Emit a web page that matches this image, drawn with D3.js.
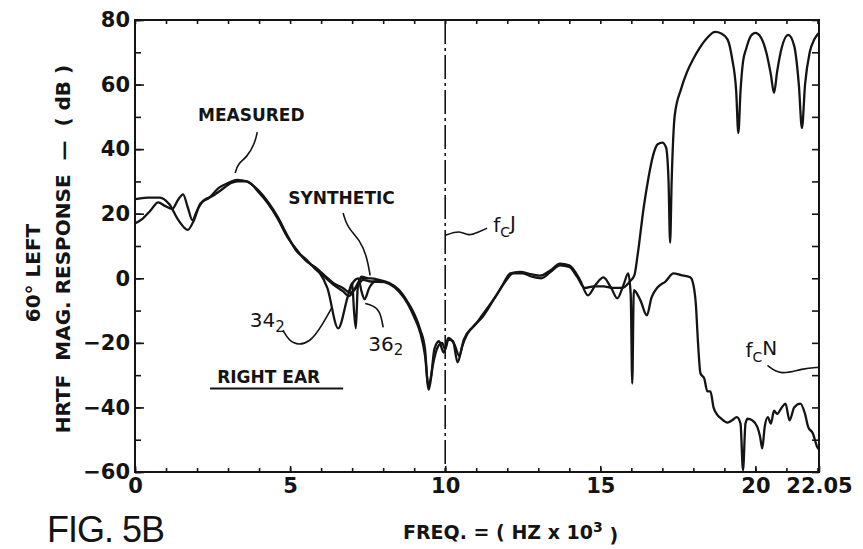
<!DOCTYPE html>
<html>
<head>
<meta charset="utf-8">
<script src="https://cdn.jsdelivr.net/npm/d3@7"></script>
<style>
  body { margin: 0; background: #fff; }
  svg { display: block; }
</style>
</head>
<body>
<div id="chart"></div>
<script>
// [freq kHz, dB]
const measured = [
  [0.0, 24.5], [0.4, 25], [0.8, 25], [1.1, 23], [1.4, 18], [1.7, 15], [1.9, 18], [2.1, 23],
  [2.4, 25], [2.7, 28], [3.0, 29.5], [3.3, 30.5], [3.6, 30], [4.0, 27], [4.3, 23.5], [4.6, 19],
  [4.9, 13.5], [5.2, 8.5], [5.5, 6], [5.8, 3], [6.1, 0.5], [6.4, -2], [6.7, -4], [6.9, -5.5],
  [7.1, -3], [7.3, 0], [7.6, 0], [7.9, -0.6], [8.2, -1.5], [8.5, -3.5], [8.8, -7.5], [9.0, -11],
  [9.2, -16], [9.35, -22], [9.45, -33], [9.55, -30], [9.65, -22], [9.8, -19.5], [9.95, -23],
  [10.1, -18.5], [10.3, -20.5], [10.45, -24], [10.6, -19], [10.9, -15], [11.2, -12], [11.55, -6.8],
  [11.8, -3], [12.1, 1.5], [12.4, 2], [12.8, 1.2], [13.05, 0.8], [13.4, 2.5], [13.7, 4.5], [14.0, 4],
  [14.35, -0.6], [14.6, -5.3], [14.85, -2], [15.1, 0.3], [15.35, -3], [15.55, -6.2], [15.75, -2],
  [15.9, 1.5], [15.98, -5], [16.03, -32.6], [16.08, -3.7], [16.3, -7], [16.5, -11.5], [16.65, -6],
  [16.85, -2.8], [17.1, -1], [17.36, 1.5], [17.6, 1], [17.9, 0.3], [18.0, -2], [18.08, -8],
  [18.15, -20], [18.23, -29.5], [18.35, -31], [18.45, -35], [18.55, -35], [18.65, -40], [18.75, -42],
  [18.9, -43.5], [19.1, -44.7], [19.25, -44], [19.4, -43], [19.52, -45], [19.6, -59.5], [19.68, -45],
  [19.75, -43.5], [19.9, -44], [20.06, -46], [20.15, -49], [20.22, -52.7], [20.3, -46], [20.4, -43],
  [20.5, -45], [20.6, -41], [20.7, -42], [20.85, -40], [20.97, -38.8], [21.1, -44], [21.25, -40],
  [21.45, -38.8], [21.6, -42], [21.7, -46], [21.85, -48], [22.0, -52.4], [22.05, -53]
];

const synthetic = [
  [0.0, 17], [0.25, 18.5], [0.5, 21], [0.75, 23.5], [0.95, 22.5], [1.2, 21.5], [1.4, 24.5],
  [1.55, 26], [1.7, 22], [1.85, 18], [2.0, 21], [2.2, 24], [2.5, 25.5], [2.8, 27.5], [3.1, 29.5],
  [3.3, 30], [3.6, 30], [4.0, 26.5], [4.3, 23], [4.6, 18.5], [4.9, 13], [5.2, 9], [5.5, 5.5],
  [5.8, 3.5], [6.1, 1], [6.4, -1.5], [6.7, -3], [6.95, -4.5], [7.2, -2], [7.35, -0.5], [7.6, -1],
  [7.9, -1], [8.2, -1.8], [8.5, -4], [8.8, -8], [9.0, -12], [9.2, -17], [9.35, -24], [9.47, -34.5],
  [9.6, -27], [9.75, -21.5], [9.9, -20], [10.0, -22], [10.1, -19], [10.25, -19.5], [10.4, -26],
  [10.55, -21], [10.7, -17.5], [11.0, -14], [11.3, -10], [11.6, -6], [11.9, -1.5], [12.2, 1.5],
  [12.5, 1.5], [12.8, 0.5], [13.1, 0], [13.4, 2], [13.7, 4], [14.0, 3.5], [14.25, 0.5], [14.5, -3],
  [14.8, -2.5], [15.1, -2.5], [15.4, -3], [15.7, -3], [15.95, -1], [16.1, 1], [16.2, 7], [16.4, 22],
  [16.55, 31], [16.7, 38], [16.85, 41.5], [17.0, 42], [17.12, 40.5], [17.2, 30], [17.25, 11],
  [17.3, 30], [17.4, 50.5], [17.6, 58.5], [17.8, 64], [18.0, 68], [18.2, 71.3], [18.45, 74.5],
  [18.7, 76.3], [18.9, 75.8], [19.1, 74], [19.25, 68], [19.38, 58], [19.45, 45], [19.52, 58],
  [19.6, 67], [19.7, 71], [19.85, 75], [20.0, 76], [20.15, 75], [20.35, 70], [20.5, 63], [20.6, 57.4],
  [20.7, 64], [20.85, 71.5], [21.06, 75.4], [21.25, 72], [21.4, 60], [21.5, 46.5], [21.6, 60],
  [21.75, 70], [21.9, 74], [22.05, 76]
];

// short stretches where the 34- and 36-pole fits leave the main traces
const poles34 = [
  [5.9, 2.5], [6.2, -3], [6.55, -15.5], [6.85, -6], [7.0, -1.5], [7.06, -10], [7.12, -15.5],
  [7.18, -3], [7.3, 0.5], [7.5, 0]
];
const poles36 = [
  [6.9, -4.5], [7.05, -1], [7.2, 0], [7.3, -4], [7.4, -6.5], [7.55, -3], [7.75, -1], [8.0, -1.2]
];

const cutoffJ = 10;
const yTicks = [-60, -40, -20, 0, 20, 40, 60, 80];
const yMinor = d3.range(-60, 81, 10);
const xTickLabels = [0, 5, 10, 15, 20, 22.05];
const xMinor = d3.range(0, 23, 1);

// leader lines, in data units
const leaderMeasured = [[3.94, 45.3], [3.87, 41.9], [3.61, 37.5], [3.32, 35.6], [3.23, 32.6]];
const leaderSynthetic = [[6.71, 20.2], [6.84, 15.8], [7.26, 11.8], [7.48, 6.5], [7.58, 0.9]];
const leaderFcJ = [[10.0, 13.3], [10.48, 14.9], [10.74, 13], [11.06, 14.3], [11.35, 15.5]];
const leader34 = [[4.77, -16.1], [5.06, -20.8], [5.65, -20.2], [6.06, -14], [6.35, -9]];
const leader36 = [[8.0, -15.2], [7.9, -9.9], [7.65, -8.4], [7.42, -7.8]];
const leaderFcN = [[20.39, -27], [20.81, -30.1], [21.52, -27.9], [22.05, -27.6]];

const W = 863, H = 549;
const margin = { top: 20, left: 135, right: 44, bottom: 77 };
const width = W - margin.left - margin.right;
const height = H - margin.top - margin.bottom;

const svg = d3.select("#chart").append("svg")
  .attr("width", W)
  .attr("height", H)
  .style("font-family", "'DejaVu Sans', sans-serif");

const g = svg.append("g")
  .attr("transform", `translate(${margin.left},${margin.top})`);

const x = d3.scaleLinear().domain([0, 22.05]).range([0, width]);
const y = d3.scaleLinear().domain([-60, 80]).range([height, 0]);

const ink = "#141414";

// minor ticks on all four sides
g.append("g").attr("transform", `translate(0,${height})`)
  .call(d3.axisBottom(x).tickValues(xMinor).tickSize(-4).tickFormat(""));
g.append("g")
  .call(d3.axisTop(x).tickValues(xMinor).tickSize(-4).tickFormat(""));
g.append("g")
  .call(d3.axisLeft(y).tickValues(yMinor).tickSize(-6).tickFormat(""));
g.append("g").attr("transform", `translate(${width},0)`)
  .call(d3.axisLeft(y).tickValues(yMinor).tickSize(7).tickFormat(""));

// labelled ticks
const xAxis = g.append("g").attr("transform", `translate(0,${height})`)
  .call(d3.axisBottom(x).tickValues(xTickLabels).tickSize(-6).tickPadding(6)
    .tickFormat(d => d === 22.05 ? "22.05" : d));
const yAxis = g.append("g")
  .call(d3.axisLeft(y).tickValues(yTicks).tickSize(-9).tickPadding(5));

g.selectAll(".domain").remove();
g.selectAll(".tick line").attr("stroke", ink).attr("stroke-width", 1.6);
[xAxis, yAxis].forEach(a => a.selectAll("text")
  .attr("fill", ink)
  .style("font-size", "21px")
  .style("font-weight", "bold")
  .style("font-family", "'DejaVu Sans', sans-serif"));

// frame
g.append("rect")
  .attr("width", width).attr("height", height)
  .attr("fill", "none").attr("stroke", ink).attr("stroke-width", 2);

// cutoff line fcJ
g.append("line")
  .attr("x1", x(cutoffJ)).attr("x2", x(cutoffJ))
  .attr("y1", 0).attr("y2", height)
  .attr("stroke", ink).attr("stroke-width", 1.6)
  .attr("stroke-dasharray", "24,4,3,4");

const line = d3.line()
  .x(d => x(d[0]))
  .y(d => y(d[1]))
  .curve(d3.curveMonotoneX);

[synthetic, poles34, poles36, measured].forEach(data => {
  g.append("path")
    .datum(data)
    .attr("fill", "none")
    .attr("stroke", ink)
    .attr("stroke-width", 2.3)
    .attr("stroke-linejoin", "round")
    .attr("d", line);
});

// leaders
const leader = d3.line()
  .x(d => x(d[0]))
  .y(d => y(d[1]))
  .curve(d3.curveBasis);

[leaderMeasured, leaderSynthetic, leaderFcJ, leader34, leader36, leaderFcN].forEach(data => {
  g.append("path")
    .datum(data)
    .attr("fill", "none")
    .attr("stroke", ink)
    .attr("stroke-width", 1.6)
    .attr("d", leader);
});

// annotations
function label(fx, fdb, size, weight) {
  return g.append("text")
    .attr("x", x(fx)).attr("y", y(fdb))
    .attr("dy", "0.35em")
    .attr("fill", ink)
    .style("font-size", size + "px")
    .style("font-weight", weight || "bold");
}

label(2.03, 50.5, 17).text("MEASURED");
label(4.94, 24.8, 17).text("SYNTHETIC");
label(2.65, -30.7, 17).text("RIGHT EAR");
g.append("line")
  .attr("x1", x(2.42)).attr("x2", x(6.71))
  .attr("y1", y(-34.1)).attr("y2", y(-34.1))
  .attr("stroke", ink).attr("stroke-width", 2);

const t34 = label(3.7, -13, 20, "normal");
t34.append("tspan").text("34");
t34.append("tspan").attr("dy", "0.3em").style("font-size", "15px").text("2");

const t36 = label(7.52, -20.2, 20, "normal");
t36.append("tspan").text("36");
t36.append("tspan").attr("dy", "0.3em").style("font-size", "15px").text("2");

const fj = label(11.55, 16.4, 20, "normal");
fj.append("tspan").text("f");
fj.append("tspan").attr("dy", "0.35em").style("font-size", "14px").text("C");
fj.append("tspan").attr("dy", "-0.35em").text("J");

const fn = label(19.68, -22.3, 20, "normal");
fn.append("tspan").text("f");
fn.append("tspan").attr("dy", "0.35em").style("font-size", "14px").text("C");
fn.append("tspan").attr("dy", "-0.35em").text("N");

// axis titles
const yTitle = svg.append("g")
  .style("font-weight", "bold")
  .style("font-size", "20px")
  .attr("fill", ink);
yTitle.append("text")
  .attr("transform", "translate(40,273) rotate(-90)")
  .attr("text-anchor", "middle")
  .text("60° LEFT");
yTitle.append("text")
  .attr("transform", "translate(70,249) rotate(-90)")
  .attr("text-anchor", "middle")
  .attr("xml:space", "preserve")
  .text("HRTF  MAG. RESPONSE  —  ( dB )");

const xTitle = svg.append("text")
  .attr("x", 403).attr("y", 539)
  .attr("fill", ink)
  .attr("xml:space", "preserve")
  .style("font-weight", "bold")
  .style("font-size", "19px");
xTitle.append("tspan").text("FREQ. = ( HZ x 10");
xTitle.append("tspan").attr("dy", "-0.5em").style("font-size", "14px").text("3");
xTitle.append("tspan").attr("dy", "0.5em").text(" )");

svg.append("text")
  .attr("x", 47).attr("y", 542)
  .attr("fill", ink)
  .style("font-family", "'Liberation Sans', Arial, sans-serif")
  .style("font-size", "36px")
  .style("letter-spacing", "-1px")
  .text("FIG. 5B");
</script>
</body>
</html>
